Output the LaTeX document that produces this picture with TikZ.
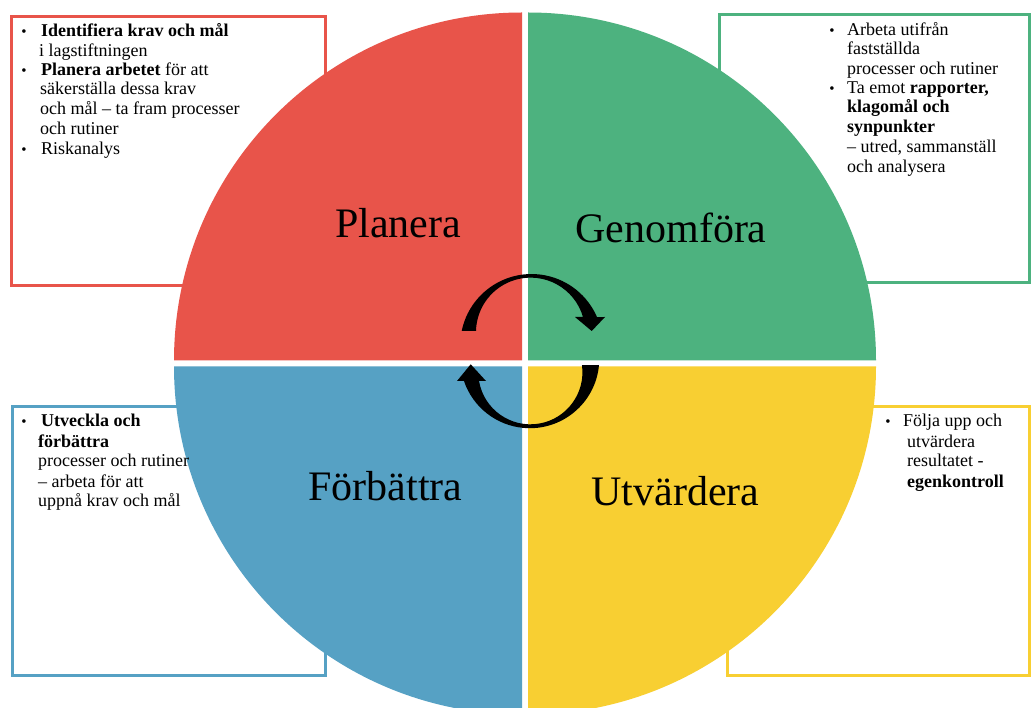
\documentclass[tikz,border=0pt]{standalone}
\usepackage{fontspec}
\setmainfont{Liberation Serif}
\definecolor{cred}{RGB}{232,84,74}
\definecolor{cgreen}{RGB}{77,178,127}
\definecolor{cblue}{RGB}{86,161,196}
\definecolor{cyellow}{RGB}{248,207,50}
\tikzset{
  boxframe/.style={line width=3pt, fill=white},
  txt/.style={anchor=base west, inner sep=0pt, font=\fontsize{18}{19.7}\selectfont},
  bul/.style={anchor=base, inner sep=0pt, font=\fontsize{15}{15}\selectfont},
  lbl/.style={anchor=base, inner sep=0pt, font=\fontsize{42}{50}\selectfont},
  cyc/.style={fill=black}
}
\begin{document}
\begin{tikzpicture}[x=1pt,y=-1pt]
\useasboundingbox (0,0) rectangle (1031,708);
\fill[white] (0,0) rectangle (1031,708);
% boxes
\draw[boxframe, draw=cred] (11,17) rectangle (325,286);
\draw[boxframe, draw=cgreen] (719,15) rectangle (1029,283);
\draw[boxframe, draw=cblue] (12,407) rectangle (325,675);
\draw[boxframe, draw=cyellow] (727,407) rectangle (1029,675);
% quadrants
\fill[cred] (522,360.5) -- ++(180:348) arc[start angle=180, end angle=270, radius=348] -- cycle;
\fill[cgreen] (528,360.5) -- ++(270:348) arc[start angle=270, end angle=360, radius=348] -- cycle;
\fill[cyellow] (528,366.5) -- ++(0:348) arc[start angle=0, end angle=90, radius=348] -- cycle;
\fill[cblue] (522,366.5) -- ++(90:348) arc[start angle=90, end angle=180, radius=348] -- cycle;
% labels
\node[lbl] (lp) at (398,238) {Planera};
\node[lbl] (lg) at (671,243) {Genomföra};
\node[lbl] (lf) at (385.5,500) {Förbättra};
\node[lbl] (lu) at (675.5,505) {Utvärdera};
% cycle arrows
\fill[cyc] (461.7,331) arc[start angle=191.6, end angle=336.6, radius=71.3]
  -- (605,317) -- (591.7,331) -- (575,317) -- (583,317)
  arc[start angle=343.8, end angle=181.4, radius=54.6] -- cycle;
\fill[cyc] (599,365) arc[start angle=5.2, end angle=161.3, radius=69.5]
  -- (457,381) -- (470.7,364.3) -- (486,381) -- (479,381)
  arc[start angle=170.3, end angle=-7.9, radius=52.1] -- cycle;
% red box text
\node[bul] (rb1) at (24,37) {•};
\node[txt] (r1) at (41,37) {\bfseries Identifiera krav och mål};
\node[txt] (r2) at (39,57) {i lagstiftningen};
\node[bul] (rb2) at (24,76) {•};
\node[txt] (r3) at (41,76) {\textbf{Planera arbetet} för att};
\node[txt] (r4) at (40,95) {säkerställa dessa krav};
\node[txt] (r5) at (40,115) {och mål – ta fram processer};
\node[txt] (r6) at (40,135) {och rutiner};
\node[bul] (rb3) at (24,155) {•};
\node[txt] (r7) at (41,155) {Riskanalys};
% green box text
\node[bul] (gb1) at (832,36) {•};
\node[txt] (g1) at (847,36) {Arbeta utifrån};
\node[txt] (g2) at (847,55) {fastställda};
\node[txt] (g3) at (847,75) {processer och rutiner};
\node[bul] (gb2) at (832,94) {•};
\node[txt] (g4) at (847,94) {Ta emot \textbf{rapporter,}};
\node[txt] (g5) at (847,113) {\bfseries klagomål och};
\node[txt] (g6) at (847,133) {\bfseries synpunkter};
\node[txt] (g7) at (847,153) {– utred, sammanställ};
\node[txt] (g8) at (847,173) {och analysera};
% blue box text
\node[bul] (bb1) at (24,427) {•};
\node[txt] (b1) at (41,427) {\bfseries Utveckla och};
\node[txt] (b2) at (38,447) {\bfseries förbättra};
\node[txt] (b3) at (38,467) {processer och rutiner};
\node[txt] (b4) at (38,487) {– arbeta för att};
\node[txt] (b5) at (38,506) {uppnå krav och mål};
% yellow box text
\node[bul] (yb1) at (888,427) {•};
\node[txt] (y1) at (903,427) {Följa upp och};
\node[txt] (y2) at (907,447) {utvärdera};
\node[txt] (y3) at (907,467) {resultatet -};
\node[txt] (y4) at (907,487) {\bfseries egenkontroll};
\end{tikzpicture}
\end{document}
